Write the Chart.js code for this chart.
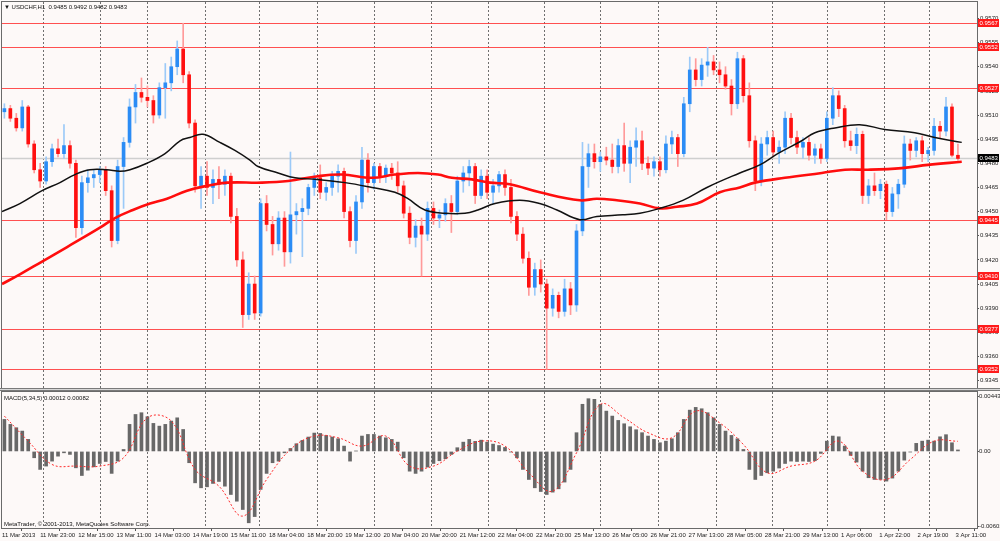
<!DOCTYPE html>
<html>
<head>
<meta charset="utf-8">
<script src="https://cdn.jsdelivr.net/npm/chart.js@4.4.0/dist/chart.umd.min.js"></script>
<style>
  html, body { margin: 0; padding: 0; background: #fdf9f8; }
  #wrap { position: relative; width: 1000px; height: 541px; overflow: hidden; }
  canvas { position: absolute; left: 0; }
  #price { top: 0; }
  #macd { top: 391px; }
</style>
</head>
<body>
<div id="wrap">
  <canvas id="price" width="1000" height="391"></canvas>
  <canvas id="macd" width="1000" height="150"></canvas>
</div>
<script>
// USDCHF H1, 11 Mar - 3 Apr 2013. One candle here = 2.5 hourly bars of the original.
const titleText = '\u25BC USDCHF,H1  0.9485 0.9492 0.9482 0.9483';
const macdText = 'MACD(5,34,5) 0.00012 0.00082';
const copyText = 'MetaTrader, \u00A9 2001-2013, MetaQuotes Software Corp.';

const opens = [
  0.9512,0.9514,0.9508,0.9502,0.9515,0.9492,0.9476,0.9469,0.9481,0.9489,
  0.9486,0.9491,0.9480,0.9440,0.9468,0.9471,0.9473,0.9476,0.9463,0.9432,
  0.9478,0.9493,0.9515,0.9524,0.9521,0.9519,0.9510,0.9527,0.9530,0.9540,
  0.9551,0.9535,0.9505,0.9466,0.9472,0.9465,0.9470,0.9467,0.9472,0.9447,
  0.9420,0.9386,0.9405,0.9387,0.9455,0.9442,0.9430,0.9446,0.9425,0.9448,
  0.9450,0.9452,0.9465,0.9471,0.9462,0.9465,0.9472,0.9475,0.9450,0.9432,
  0.9456,0.9482,0.9468,0.9478,0.9472,0.9477,0.9474,0.9466,0.9449,0.9434,
  0.9441,0.9436,0.9452,0.9446,0.9448,0.9455,0.9450,0.9469,0.9474,0.9478,
  0.9460,0.9472,0.9462,0.9466,0.9473,0.9465,0.9447,0.9436,0.9421,0.9403,
  0.9414,0.9405,0.9390,0.9398,0.9388,0.9402,0.9392,0.9438,0.9478,0.9486,
  0.9481,0.9484,0.9482,0.9478,0.9491,0.9480,0.9490,0.9494,0.9480,0.9477,
  0.9481,0.9476,0.9492,0.9496,0.9486,0.9517,0.9538,0.9532,0.9541,0.9543,
  0.9538,0.9535,0.9528,0.9517,0.9545,0.9522,0.9494,0.9469,0.9492,0.9496,
  0.9487,0.9490,0.9508,0.9496,0.9490,0.9493,0.9485,0.9489,0.9483,0.9508,
  0.9522,0.9514,0.9494,0.9491,0.9498,0.9460,0.9466,0.9463,0.9467,0.9450,
  0.9461,0.9467,0.9492,0.9488,0.9494,0.9486,0.9488,0.9503,0.9500,0.9515,
  0.9485
];
const highs = [
  0.9517,0.9516,0.9511,0.9519,0.9516,0.9494,0.9480,0.9484,0.9492,0.9495,
  0.9504,0.9494,0.9482,0.9472,0.9476,0.9476,0.9478,0.9478,0.9466,0.9482,
  0.9496,0.9520,0.9529,0.9533,0.9528,0.9522,0.9530,0.9542,0.9546,0.9556,
  0.9567,0.9537,0.9507,0.9478,0.9481,0.9476,0.9478,0.9476,0.9474,0.9452,
  0.9425,0.9412,0.9410,0.9458,0.9460,0.9447,0.9450,0.9450,0.9487,0.9455,
  0.9458,0.9467,0.9474,0.9479,0.9468,0.9475,0.9479,0.9477,0.9453,0.9460,
  0.9490,0.9486,0.9480,0.9480,0.9479,0.9480,0.9481,0.9469,0.9453,0.9445,
  0.9446,0.9456,0.9456,0.9451,0.9458,0.9460,0.9472,0.9478,0.9482,0.9480,
  0.9476,0.9476,0.9470,0.9475,0.9476,0.9470,0.9450,0.9440,0.9425,0.9418,
  0.9420,0.9408,0.9402,0.9400,0.9408,0.9406,0.9442,0.9493,0.9492,0.9492,
  0.9487,0.9490,0.9492,0.9495,0.9505,0.9494,0.9502,0.9500,0.9484,0.9484,
  0.9484,0.9497,0.9500,0.9498,0.9521,0.9546,0.9545,0.9545,0.9552,0.9547,
  0.9543,0.9540,0.9532,0.9549,0.9547,0.9530,0.9497,0.9496,0.9500,0.9500,
  0.9494,0.9512,0.9511,0.9500,0.9496,0.9496,0.9492,0.9492,0.9512,0.9527,
  0.9525,0.9516,0.9500,0.9502,0.9500,0.9470,0.9474,0.9470,0.9469,0.9465,
  0.9470,0.9497,0.9495,0.9496,0.9497,0.9490,0.9508,0.9506,0.9521,0.9517,
  0.9492
];
const lows = [
  0.9508,0.9506,0.9500,0.9500,0.9490,0.9474,0.9465,0.9467,0.9478,0.9484,
  0.9483,0.9477,0.9434,0.9436,0.9462,0.9465,0.9468,0.9460,0.9428,0.9430,
  0.9452,0.9490,0.9505,0.9518,0.9515,0.9505,0.9508,0.9508,0.9525,0.9535,
  0.9530,0.9502,0.9462,0.9452,0.9460,0.9455,0.9458,0.9460,0.9443,0.9416,
  0.9378,0.9383,0.9383,0.9385,0.9438,0.9423,0.9426,0.9416,0.9418,0.9436,
  0.9422,0.9448,0.9460,0.9458,0.9457,0.9460,0.9462,0.9446,0.9428,0.9424,
  0.9452,0.9462,0.9464,0.9468,0.9468,0.9470,0.9462,0.9446,0.9430,0.9428,
  0.9410,0.9432,0.9442,0.9440,0.9444,0.9437,0.9448,0.9462,0.9466,0.9455,
  0.9458,0.9458,0.9455,0.9462,0.9460,0.9443,0.9432,0.9418,0.9398,0.9398,
  0.9400,0.9352,0.9385,0.9384,0.9385,0.9386,0.9388,0.9435,0.9465,0.9477,
  0.9475,0.9479,0.9474,0.9474,0.9475,0.9468,0.9478,0.9476,0.9473,0.9472,
  0.9472,0.9474,0.9486,0.9478,0.9484,0.9512,0.9528,0.9528,0.9534,0.9535,
  0.9530,0.9526,0.9510,0.9514,0.9518,0.9490,0.9463,0.9466,0.9485,0.9484,
  0.9480,0.9486,0.9492,0.9486,0.9483,0.9482,0.9480,0.9480,0.9481,0.9504,
  0.9509,0.9490,0.9488,0.9486,0.9455,0.9455,0.9460,0.9458,0.9445,0.9447,
  0.9452,0.9465,0.9482,0.9484,0.9481,0.9481,0.9485,0.9496,0.9497,0.9484,
  0.9482
];
const closes = [
  0.9514,0.9508,0.9502,0.9515,0.9492,0.9476,0.9469,0.9481,0.9489,0.9486,
  0.9491,0.9480,0.9440,0.9468,0.9471,0.9473,0.9476,0.9463,0.9432,0.9478,
  0.9493,0.9515,0.9524,0.9521,0.9519,0.9510,0.9527,0.9530,0.9540,0.9551,
  0.9535,0.9505,0.9466,0.9472,0.9465,0.9470,0.9467,0.9472,0.9447,0.9420,
  0.9386,0.9405,0.9387,0.9455,0.9442,0.9430,0.9446,0.9425,0.9448,0.9450,
  0.9452,0.9465,0.9471,0.9462,0.9465,0.9472,0.9475,0.9450,0.9432,0.9456,
  0.9482,0.9468,0.9478,0.9472,0.9477,0.9474,0.9466,0.9449,0.9434,0.9441,
  0.9436,0.9452,0.9446,0.9448,0.9455,0.9450,0.9469,0.9474,0.9478,0.9460,
  0.9472,0.9462,0.9466,0.9473,0.9465,0.9447,0.9436,0.9421,0.9403,0.9414,
  0.9405,0.9390,0.9398,0.9388,0.9402,0.9392,0.9438,0.9478,0.9486,0.9481,
  0.9484,0.9482,0.9478,0.9491,0.9480,0.9490,0.9494,0.9480,0.9477,0.9481,
  0.9476,0.9492,0.9496,0.9486,0.9517,0.9538,0.9532,0.9541,0.9543,0.9538,
  0.9535,0.9528,0.9517,0.9545,0.9522,0.9494,0.9469,0.9492,0.9496,0.9487,
  0.9490,0.9508,0.9496,0.9490,0.9493,0.9485,0.9489,0.9483,0.9508,0.9522,
  0.9514,0.9494,0.9491,0.9498,0.9460,0.9466,0.9463,0.9467,0.9450,0.9461,
  0.9467,0.9492,0.9488,0.9494,0.9486,0.9488,0.9503,0.9500,0.9515,0.9485,
  0.9483
];

// moving averages, read at hour offsets from the first bar
const blackHours = [0,7.5,16.8,24.3,30.6,36.9,44,49.5,53.7,60.8,68.4,74.7,78.8,84.3,91.4,97.7,104,107.4,115.8,122.9,
  132.1,143.9,155.2,164.8,170.3,177.4,185.8,194.2,199.6,206.8,217.2,225.6,232.8,242.4,249.5,260.4,267.6,276,285.6,295.7,
  309.5,317.9,325.4,335.5,341,349.4,359.8,370.3,382.9,391.3,402.6];
const blackMA = [0.9450,0.9455,0.9463,0.9468,0.9473,0.9476,0.9476,0.9475,0.9476,0.9480,0.9486,0.9494,0.9496,0.9498,0.9493,0.9488,0.9482,0.9478,0.9474,0.9471,
  0.9470,0.9468,0.9465,0.9462,0.9458,0.9451,0.9449,0.9449,0.9451,0.9455,0.9457,0.9455,0.9451,0.9445,0.9447,0.9448,0.9449,0.9452,0.9457,0.9465,
  0.9474,0.9479,0.9486,0.9494,0.9499,0.9502,0.9504,0.9501,0.9499,0.9496,0.9493];
const redHours = [0,7.5,16.8,27.3,41.1,47.4,54.9,62.1,69.2,77.6,86,94.4,109,120,132.5,142.6,155.2,164.8,174.5,182.9,
  188.7,197.1,204.7,213,225.6,242.4,249.5,257.9,267.6,276,283.1,291.5,301.1,309.5,315.8,328.4,343.9,353.6,363.2,377.4,
  388.4,402.6];
const redMA = [0.9405,0.9411,0.9419,0.9428,0.9440,0.9446,0.9451,0.9455,0.9458,0.9463,0.9466,0.9468,0.9468,0.9469,0.9472,0.9473,0.9471,0.9473,0.9474,0.9473,
  0.9471,0.9470,0.9468,0.9467,0.9462,0.9457,0.9458,0.9457,0.9455,0.9452,0.9453,0.9455,0.9462,0.9465,0.9468,0.9471,0.9474,0.9476,0.9476,0.9477,
  0.9479,0.9481];

// MACD histogram, one value per candle; signal read every 4th candle
const macdHist = [
  0.00258,0.00218,0.00191,0.00164,0.00097,-0.00051,-0.00145,-0.00118,-0.00078,-0.00038,
  -0.00011,-0.00024,-0.00132,-0.00194,-0.00151,-0.00124,-0.00097,-0.00081,-0.00177,-0.00078,
  0.00016,0.00218,0.00298,0.00312,0.00280,0.00226,0.00204,0.00218,0.00245,0.00271,
  0.00177,-0.00091,-0.00253,-0.00293,-0.00285,-0.00258,-0.00242,-0.00280,-0.00347,-0.00401,
  -0.00468,-0.00575,-0.00525,-0.00306,-0.00177,-0.00091,-0.00078,-0.00011,0.00024,0.00062,
  0.00089,0.00116,0.00148,0.00145,0.00129,0.00116,0.00102,0.00043,-0.00078,0.00003,
  0.00124,0.00137,0.00137,0.00124,0.00110,0.00097,0.00075,-0.00051,-0.00159,-0.00177,
  -0.00159,-0.00126,-0.00097,-0.00075,-0.00059,-0.00024,0.00030,0.00075,0.00097,0.00081,
  0.00091,0.00075,0.00059,0.00048,0.00032,-0.00005,-0.00051,-0.00145,-0.00226,-0.00293,
  -0.00323,-0.00347,-0.00328,-0.00301,-0.00247,-0.00145,0.00151,0.00380,0.00425,0.00420,
  0.00380,0.00325,0.00285,0.00250,0.00223,0.00199,0.00175,0.00151,0.00124,0.00097,
  0.00070,0.00083,0.00102,0.00151,0.00258,0.00333,0.00355,0.00344,0.00312,0.00271,
  0.00218,0.00164,0.00129,0.00102,0.00016,-0.00145,-0.00226,-0.00194,-0.00172,-0.00159,
  -0.00134,-0.00097,-0.00078,-0.00081,-0.00078,-0.00081,-0.00075,-0.00016,0.00083,0.00124,
  0.00118,0.00043,-0.00032,-0.00086,-0.00159,-0.00212,-0.00226,-0.00226,-0.00239,-0.00215,
  -0.00159,-0.00070,-0.00005,0.00065,0.00083,0.00091,0.00083,0.00118,0.00135,0.00070,
  0.00012
];
const macdSignal = [
  0.00285,0.00083,-0.00105,-0.00118,-0.00118,-0.00051,0.00271,0.00245,-0.00145,-0.00280,
  -0.00521,-0.00226,0.00016,0.00124,0.00110,0.00043,0.00124,-0.00118,-0.00118,0.00003,
  0.00083,0.00043,-0.00172,-0.00320,-0.00011,0.00379,0.00271,0.00151,0.00110,0.00325,
  0.00231,0.00056,-0.00172,-0.00118,-0.00078,0.00083,-0.00159,-0.00226,-0.00065,0.00083,
  0.00082
];
const SIGNAL_STEP = 4;

// axes
const timeLabels = ['11 Mar 2013','11 Mar 23:00','12 Mar 15:00','13 Mar 11:00','14 Mar 03:00','14 Mar 19:00',
  '15 Mar 11:00','18 Mar 04:00','18 Mar 20:00','19 Mar 12:00','20 Mar 04:00','20 Mar 20:00','21 Mar 12:00',
  '22 Mar 04:00','22 Mar 20:00','25 Mar 13:00','26 Mar 05:00','26 Mar 21:00','27 Mar 13:00','28 Mar 05:00',
  '28 Mar 21:00','29 Mar 13:00','1 Apr 06:00','1 Apr 22:00','2 Apr 19:00','3 Apr 11:00'];
const BARS_PER_LABEL = 16;
const dayBreaks = [17, 41, 61, 85, 108, 132, 156, 180, 204, 227.5, 251, 275, 299.5, 323, 346, 370, 389];
const priceTicks = [0.9570,0.9555,0.9540,0.9525,0.9510,0.9495,0.9480,0.9465,0.9450,0.9435,0.9420,0.9405,0.9390,0.9375,0.9360,0.9345];
const levels = [0.9567, 0.9552, 0.9527, 0.9445, 0.9410, 0.9377, 0.9352];
const lastPrice = 0.9483;
const macdTicks = [0.00443, 0, -0.00601];
const macdTickLabels = ['0.00443', '0.00', '-0.00601'];

const HOURS_PER_CANDLE = 2.5;
const X_MAX = 409;
const PRICE_MIN = 0.93398, PRICE_MAX = 0.95802;
const MACD_MIN = -0.00617, MACD_MAX = 0.00479;

const BG = '#fdf9f8';
const FONT = '"Liberation Sans", Arial, "DejaVu Sans", sans-serif';
const UP = '#2b8cf5', UP_WICK = '#9ccaf8', DOWN = '#ff1010', DOWN_WICK = '#ff9a9a';

Chart.defaults.font.family = FONT;
Chart.defaults.font.size = 6;
Chart.defaults.color = '#222';
Chart.defaults.animation = false;

const candleHours = closes.map((_, i) => 1 + i * HOURS_PER_CANDLE);
const isUp = closes.map((c, i) => c >= opens[i]);

function font(size) { return size + 'px ' + FONT; }

function drawDayLines(chart) {
  const { ctx, chartArea, scales } = chart;
  ctx.save();
  ctx.strokeStyle = '#6f6f6f';
  ctx.lineWidth = 1;
  ctx.setLineDash([2, 2]);
  dayBreaks.forEach(h => {
    const x = Math.round(scales.x.getPixelForValue(h)) + 0.5;
    ctx.beginPath();
    ctx.moveTo(x, chartArea.top);
    ctx.lineTo(x, chartArea.bottom);
    ctx.stroke();
  });
  ctx.restore();
}

function fillBackground(chart) {
  const { ctx, width, height } = chart;
  ctx.save();
  ctx.fillStyle = BG;
  ctx.fillRect(0, 0, width, height);
  ctx.restore();
}

function priceBox(ctx, y, text, fill) {
  ctx.fillStyle = fill;
  ctx.fillRect(978, Math.round(y) - 4, 21, 8);
  ctx.fillStyle = '#fff';
  ctx.font = font(6);
  ctx.textBaseline = 'middle';
  ctx.textAlign = 'left';
  ctx.fillText(text, 979.5, Math.round(y) + 0.5);
}

const pricePlugin = {
  id: 'mtPrice',
  beforeDraw: fillBackground,
  beforeDatasetsDraw(chart) {
    const { ctx, chartArea, scales } = chart;
    drawDayLines(chart);
    ctx.save();
    const yl = Math.round(scales.y.getPixelForValue(lastPrice)) + 0.5;
    ctx.strokeStyle = '#cfcfcf';
    ctx.lineWidth = 1.5;
    ctx.beginPath();
    ctx.moveTo(chartArea.left, yl);
    ctx.lineTo(chartArea.right, yl);
    ctx.stroke();
    ctx.strokeStyle = 'rgba(255,50,50,0.85)';
    ctx.lineWidth = 1.2;
    levels.forEach(p => {
      const y = Math.round(scales.y.getPixelForValue(p)) + 0.5;
      ctx.beginPath();
      ctx.moveTo(chartArea.left, y);
      ctx.lineTo(chartArea.right, y);
      ctx.stroke();
    });
    ctx.restore();
  },
  afterDraw(chart) {
    const { ctx, chartArea, scales } = chart;
    ctx.save();
    ctx.strokeStyle = '#6a6a6a';
    ctx.lineWidth = 1;
    ctx.strokeRect(chartArea.left - 0.5, chartArea.top - 0.5, chartArea.right - chartArea.left + 1, chartArea.bottom - chartArea.top + 1);
    // panel separator: two grey rules with a light gap
    ctx.fillStyle = '#d8d8d8';
    ctx.fillRect(0, 388, 1000, 3);
    ctx.fillStyle = '#7a7a7a';
    ctx.fillRect(0, 388, 1000, 1);
    ctx.fillRect(0, 390, 1000, 1);
    levels.forEach(p => priceBox(ctx, scales.y.getPixelForValue(p), p.toFixed(4), '#ff1a1a'));
    priceBox(ctx, scales.y.getPixelForValue(lastPrice), lastPrice.toFixed(4), '#000');
    ctx.fillStyle = '#111';
    ctx.font = font(6);
    ctx.textBaseline = 'alphabetic';
    ctx.textAlign = 'left';
    ctx.fillText(titleText, 4, 8.5);
    ctx.restore();
  }
};

const macdPlugin = {
  id: 'mtMacd',
  beforeDraw: fillBackground,
  beforeDatasetsDraw: drawDayLines,
  afterDraw(chart) {
    const { ctx, chartArea } = chart;
    ctx.save();
    ctx.strokeStyle = '#6a6a6a';
    ctx.lineWidth = 1;
    ctx.strokeRect(chartArea.left - 0.5, chartArea.top - 0.5, chartArea.right - chartArea.left + 1, chartArea.bottom - chartArea.top + 1);
    ctx.fillStyle = '#111';
    ctx.font = font(6);
    ctx.textAlign = 'left';
    ctx.textBaseline = 'middle';
    ctx.fillText(macdText, 4, 7);
    ctx.fillText(copyText, 4, 133);
    ctx.restore();
  }
};

function rightAxis(min, max, tickValues, label, pad) {
  return {
    position: 'right',
    min, max,
    afterBuildTicks: s => { s.ticks = tickValues.map(v => ({ value: v })); },
    afterFit: s => { s.width = 23; s.paddingTop = 0; s.paddingBottom = 0; },
    grid: { drawOnChartArea: false, tickLength: 2, color: '#555' },
    border: { display: true, color: '#555' },
    ticks: { padding: pad, color: '#222', font: { size: 6 }, callback: label }
  };
}

new Chart(document.getElementById('price'), {
  type: 'bar',
  data: {
    datasets: [
      {
        type: 'line', label: 'MA slow',
        data: blackHours.map((h, i) => ({ x: h, y: blackMA[i] })),
        borderColor: '#111', borderWidth: 1.5, pointRadius: 0, tension: 0.4, order: 0
      },
      {
        type: 'line', label: 'MA fast',
        data: redHours.map((h, i) => ({ x: h, y: redMA[i] })),
        borderColor: '#ff0d0d', borderWidth: 2.6, pointRadius: 0, tension: 0.4, order: 0
      },
      {
        label: 'body',
        data: candleHours.map((h, i) => ({ x: h, y: [opens[i], closes[i]] })),
        backgroundColor: isUp.map(u => u ? UP : DOWN),
        barThickness: 3, minBarLength: 1, grouped: false, order: 1
      },
      {
        label: 'wick',
        data: candleHours.map((h, i) => ({ x: h, y: [lows[i], highs[i]] })),
        backgroundColor: isUp.map(u => u ? UP_WICK : DOWN_WICK),
        barThickness: 1, grouped: false, order: 2
      }
    ]
  },
  options: {
    responsive: false,
    maintainAspectRatio: false,
    layout: { padding: { left: 2, top: 2, right: 0, bottom: 2 } },
    plugins: { legend: { display: false }, tooltip: { enabled: false } },
    scales: {
      x: { type: 'linear', min: 0, max: X_MAX, offset: false, display: false },
      y: rightAxis(PRICE_MIN, PRICE_MAX, priceTicks, v => v.toFixed(4), 1)
    }
  },
  plugins: [pricePlugin]
});

new Chart(document.getElementById('macd'), {
  type: 'bar',
  data: {
    datasets: [
      {
        type: 'line', label: 'Signal',
        data: macdSignal.map((v, k) => ({ x: candleHours[k * SIGNAL_STEP], y: v })),
        borderColor: '#ff2a2a', borderWidth: 1, borderDash: [2, 2], pointRadius: 0, tension: 0.4, order: 0
      },
      {
        label: 'MACD',
        data: candleHours.map((h, i) => ({ x: h, y: macdHist[i] })),
        backgroundColor: '#686868',
        barThickness: 3, grouped: false, order: 1
      }
    ]
  },
  options: {
    responsive: false,
    maintainAspectRatio: false,
    layout: { padding: { left: 2, top: 1, right: 0, bottom: 0 } },
    plugins: { legend: { display: false }, tooltip: { enabled: false } },
    scales: {
      x: {
        type: 'linear', min: 0, max: X_MAX, offset: false,
        afterBuildTicks: s => { s.ticks = timeLabels.map((_, k) => ({ value: k * BARS_PER_LABEL })); },
        afterFit: s => { s.height = 13; s.paddingLeft = 0; s.paddingRight = 0; },
        grid: { drawOnChartArea: false, tickLength: 3, color: '#555' },
        border: { display: true, color: '#555' },
        ticks: {
          align: 'start', maxRotation: 0, autoSkip: false, padding: 1, color: '#222', font: { size: 6 },
          callback: (v, i) => timeLabels[i]
        }
      },
      y: rightAxis(MACD_MIN, MACD_MAX, macdTicks, (v, i) => macdTickLabels[i], 0)
    }
  },
  plugins: [macdPlugin]
});
</script>
</body>
</html>
